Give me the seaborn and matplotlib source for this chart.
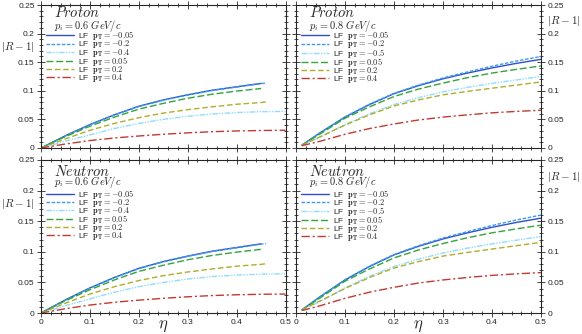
import numpy as np
import pandas as pd
import matplotlib
matplotlib.use('Agg')
import matplotlib.pyplot as plt
import seaborn as sns
from matplotlib.ticker import MultipleLocator, FormatStrFormatter

sns.set_style('ticks')
plt.rcParams['font.family'] = ['Liberation Sans', 'DejaVu Sans']
plt.rcParams['mathtext.fontset'] = 'cm'

# ---- data (same curves for proton / neutron) ----
# p_i = 0.6 GeV/c
eta_06_a = [0, 0.05, 0.1, 0.15, 0.2, 0.25, 0.3, 0.35, 0.4, 0.45]
eta_06_b = [0, 0.05, 0.1, 0.15, 0.2, 0.25, 0.3, 0.35, 0.4, 0.45, 0.46]
eta_06_c = [0, 0.05, 0.1, 0.15, 0.2, 0.25, 0.3, 0.35, 0.4, 0.45, 0.5]
pt_06 = ['-0.05', '-0.2', '-0.4', '0.05', '0.2', '0.4']
r06_m005 = [0, 0.0215, 0.041, 0.058, 0.073, 0.084, 0.093, 0.101, 0.107, 0.113]
r06_m02 = [0, 0.021, 0.0405, 0.0575, 0.0725, 0.0835, 0.0925, 0.1005, 0.1065, 0.1125, 0.1135]
r06_m04 = [0, 0.012, 0.023, 0.034, 0.043, 0.050, 0.0555, 0.0595, 0.062, 0.0635, 0.064]
r06_p005 = [0, 0.020, 0.038, 0.054, 0.068, 0.078, 0.087, 0.094, 0.0995, 0.104]
r06_p02 = [0, 0.016, 0.031, 0.043, 0.053, 0.061, 0.067, 0.072, 0.0765, 0.0795, 0.0805]
r06_p04 = [0, 0.007, 0.013, 0.0175, 0.021, 0.024, 0.0265, 0.0285, 0.0298, 0.0306, 0.031]

# p_i = 0.8 GeV/c
eta_08 = [0.012, 0.05, 0.1, 0.15, 0.2, 0.25, 0.3, 0.35, 0.4, 0.45, 0.5]
pt_08 = ['-0.05', '-0.2', '-0.5', '0.05', '0.2', '0.4']
r08_m005 = [0.005, 0.027, 0.054, 0.076, 0.095, 0.109, 0.121, 0.131, 0.140, 0.148, 0.155]
r08_m02 = [0.005, 0.027, 0.0545, 0.0765, 0.0955, 0.110, 0.1225, 0.133, 0.143, 0.152, 0.160]
r08_m05 = [0.005, 0.019, 0.041, 0.060, 0.076, 0.088, 0.098, 0.106, 0.113, 0.119, 0.125]
r08_p005 = [0.005, 0.025, 0.052, 0.072, 0.090, 0.103, 0.1135, 0.123, 0.131, 0.1375, 0.1435]
r08_p02 = [0.005, 0.020, 0.040, 0.058, 0.0735, 0.084, 0.093, 0.099, 0.1045, 0.110, 0.1155]
r08_p04 = [0.004, 0.012, 0.024, 0.034, 0.042, 0.049, 0.054, 0.058, 0.0615, 0.064, 0.066]

series_06 = [(eta_06_a, r06_m005), (eta_06_b, r06_m02), (eta_06_c, r06_m04),
             (eta_06_a, r06_p005), (eta_06_b, r06_p02), (eta_06_c, r06_p04)]
series_08 = [(eta_08, r08_m005), (eta_08, r08_m02), (eta_08, r08_m05),
             (eta_08, r08_p005), (eta_08, r08_p02), (eta_08, r08_p04)]

# line styles
colors = ['#2f4fc8', '#3a9cf0', '#8fdcff', '#33a53a', '#b0ad2a', '#c03a32']
styles = ['-', (0, (2.5, 1.2)), (0, (4, 1, 1, 1, 1, 1)), (0, (5, 2)),
          (0, (4, 2)), (0, (6, 2, 1.5, 2))]


def make_df(series, pts):
    rows = []
    for (x, y), pt in zip(series, pts):
        for a, b in zip(x, y):
            rows.append({'eta': a, 'R': b, 'pT': pt})
    return pd.DataFrame(rows)


df06 = make_df(series_06, pt_06)
df08 = make_df(series_08, pt_08)

W, H = 582, 334
fig = plt.figure(figsize=(W / 100, H / 100), dpi=100)


def pos(x0, x1, ytop, ybot):
    return [x0 / W, 1 - ybot / H, (x1 - x0) / W, (ybot - ytop) / H]


panels = [
    (pos(41, 285.5, 5, 148), df06, pt_06, 'Proton', '0.6', 'left', False),
    (pos(296, 541, 5, 148), df08, pt_08, 'Proton', '0.8', 'right', False),
    (pos(41, 285.5, 160, 313), df06, pt_06, 'Neutron', '0.6', 'left', True),
    (pos(296, 541, 160, 313), df08, pt_08, 'Neutron', '0.8', 'right', True),
]

for rect, df, pts, name, pi, side, bottom in panels:
    ax = fig.add_axes(rect)
    for i, pt in enumerate(pts):
        sub = df[df['pT'] == pt]
        sns.lineplot(data=sub, x='eta', y='R', ax=ax, color=colors[i], lw=1.0,
                     label=r'LF  $\mathbf{p_T} = %s$' % pt,
                     estimator=None, sort=False)
        ax.lines[-1].set_linestyle(styles[i])
    ax.set_xlim(0, 0.5)
    ax.set_ylim(0, 0.25)
    ax.set_xlabel('')
    ax.set_ylabel('')
    ax.xaxis.set_major_locator(MultipleLocator(0.1))
    ax.xaxis.set_minor_locator(MultipleLocator(0.02))
    ax.yaxis.set_major_locator(MultipleLocator(0.05))
    ax.yaxis.set_minor_locator(MultipleLocator(0.01))
    ax.xaxis.set_major_formatter(FormatStrFormatter('%g'))
    ax.yaxis.set_major_formatter(FormatStrFormatter('%g'))
    ax.tick_params(which='both', direction='inout', top=True, bottom=True,
                   left=True, right=True, labelsize=6, pad=1.5, width=0.6)
    ax.tick_params(which='major', length=6)
    ax.tick_params(which='minor', length=3)
    ax.tick_params(labelbottom=bottom, labelleft=(side == 'left'),
                   labelright=(side == 'right'))
    for sp in ax.spines.values():
        sp.set_linewidth(0.8)
    if not bottom:
        y_name, y_pi, y_leg = 0.945, 0.85, 0.83
    else:
        y_name, y_pi, y_leg = 0.925, 0.855, 0.82
    ax.text(0.055, y_name, r'$\mathit{%s}$' % name, transform=ax.transAxes,
            fontsize=10.5, ha='left', va='center')
    ax.text(0.055, y_pi, r'$p_i = %s\ GeV/c$' % pi, transform=ax.transAxes,
            fontsize=7.5, ha='left', va='center')
    leg = ax.legend(loc='upper left', bbox_to_anchor=(0.02, y_leg),
                    frameon=False, fontsize=6, handlelength=3.4,
                    labelspacing=-0.46, handletextpad=0.5, borderaxespad=0,
                    borderpad=0)
    if bottom:
        xc = (rect[0] + rect[2] / 2)
        fig.text(xc, 1 - 326 / H, r'$\eta$', fontsize=12, ha='center', va='center')

fig.text(1 / W, 1 - 47 / H, r'$|R-1|$', fontsize=8, ha='left', va='center')
fig.text(1 / W, 1 - 204 / H, r'$|R-1|$', fontsize=8, ha='left', va='center')
fig.text(580 / W, 1 - 21 / H, r'$|R-1|$', fontsize=8, ha='right', va='center')
fig.text(580 / W, 1 - 177 / H, r'$|R-1|$', fontsize=8, ha='right', va='center')

fig.savefig('out.png', dpi=100)
